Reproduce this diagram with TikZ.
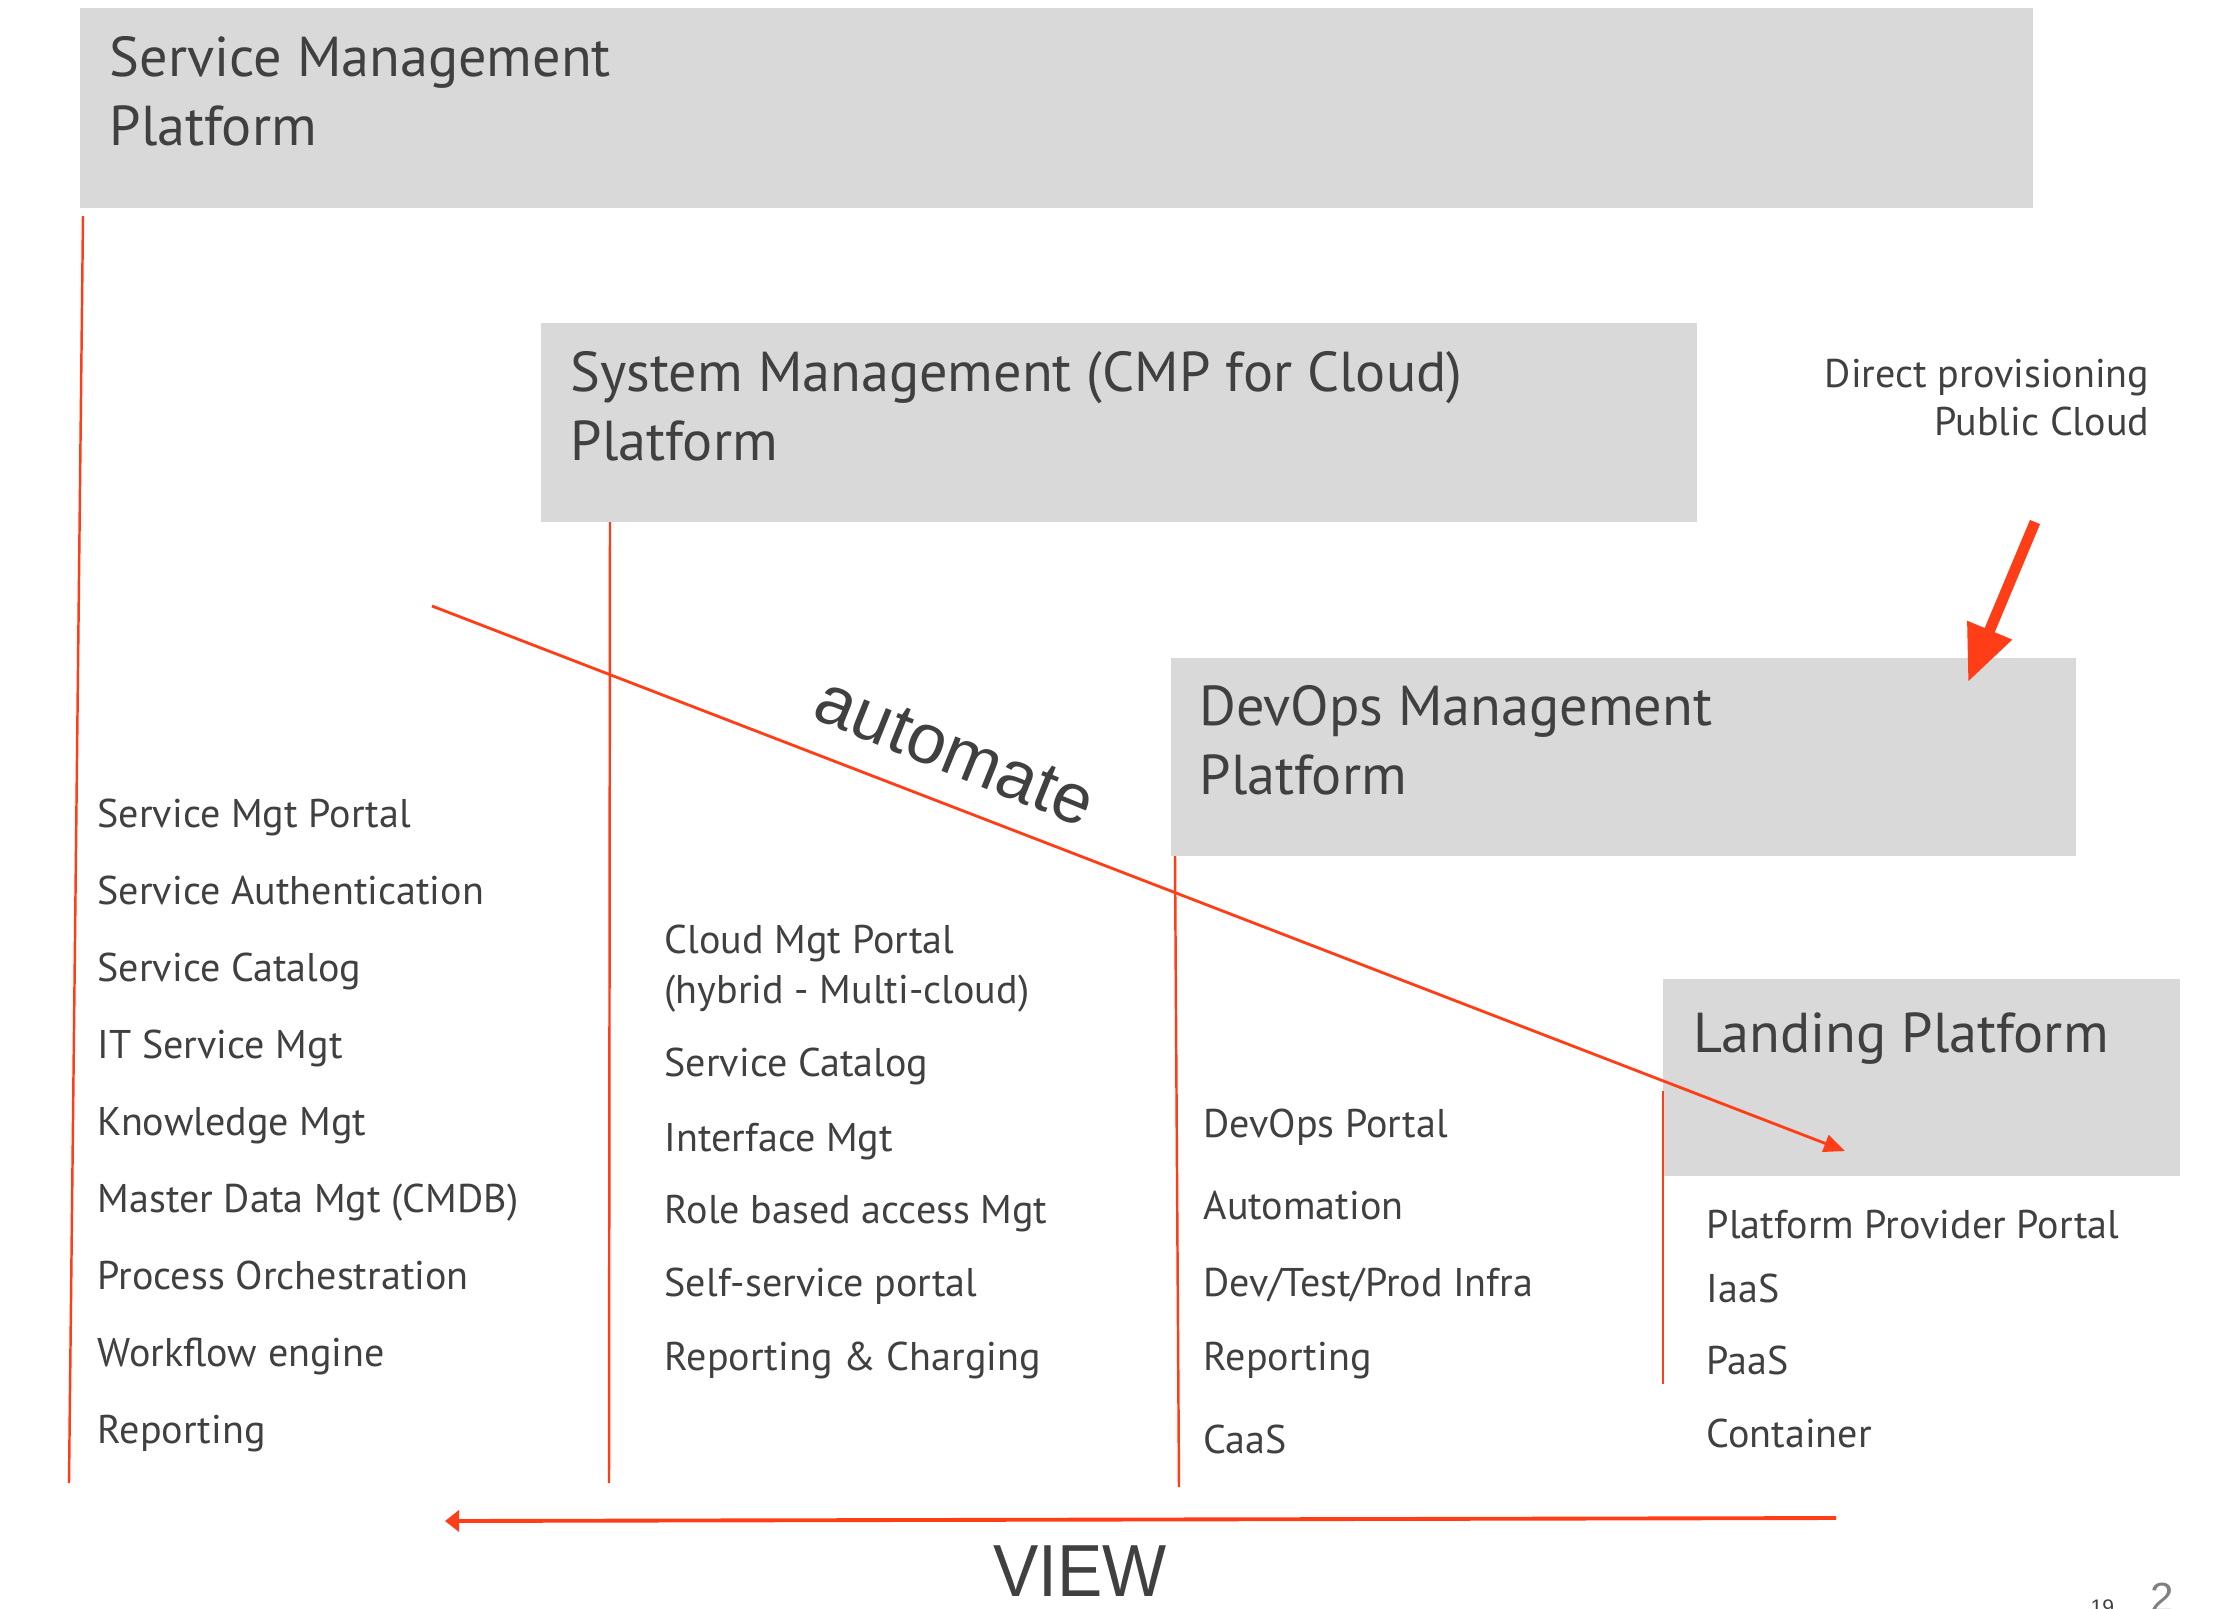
\documentclass[tikz,border=0pt]{standalone}
\usepackage{fontspec}
\setmainfont{PT Sans}
\newfontfamily\arialfont{Liberation Sans}
\usetikzlibrary{arrows.meta}
\definecolor{boxgray}{HTML}{D9D9D9}
\definecolor{linered}{HTML}{FF3D17}
\definecolor{textgray}{HTML}{404040}
\begin{document}
\begin{tikzpicture}[x=0.1mm,y=-0.1mm,
		platform/.style={fill=boxgray},
		title/.style={anchor=base west,align=left,inner sep=0pt,text=textgray,font=\fontsize{16}{19.4}\selectfont},
		item/.style={anchor=base west,inner sep=0pt,text=textgray,font=\fontsize{11.4}{13.6}\selectfont},
		redline/.style={draw=linered,line width=0.7pt}]
				\useasboundingbox (0,0) rectangle (2214,1608);
				% platform boxes
				\fill[platform] (80,8) rectangle (2033,208);
				\fill[platform] (541,323) rectangle (1697,522);
				\fill[platform] (1171,658) rectangle (2076,856);
				\fill[platform] (1663,979) rectangle (2180,1176);
				\node[title] (smp) at (109,145) {Service Management\\Platform};
				\node[title] (cmp) at (570,460) {System Management (CMP for Cloud)\\Platform};
				\node[title] (devops) at (1199,794) {DevOps Management\\Platform};
				\node[title] (landing) at (1693,1052) {Landing Platform};
				\node[item,anchor=base east,align=right] (direct) at (2150,435) {Direct provisioning\\Public Cloud};
				% columns
				\foreach \t [count=\i from 0] in {Service Mgt Portal,Service Authentication,Service Catalog,IT Service Mgt,Knowledge Mgt,Master Data Mgt (CMDB),Process Orchestration,Workflow engine,Reporting}
					\node[item] (svc\i) at (97,827+77*\i) {\t};
				\foreach \y/\t [count=\i] in {953/Cloud Mgt Portal,1003/(hybrid - Multi-cloud),1076/Service Catalog,1151/Interface Mgt,1223/Role based access Mgt,1296/Self-service portal,1370/Reporting \& Charging}
					\node[item] (cmp\i) at (664,\y) {\t};
				\foreach \y/\t [count=\i] in {1137/DevOps Portal,1219/Automation,1296/{Dev/Test/Prod Infra},1370/Reporting,1453/CaaS}
					\node[item] (dev\i) at (1203,\y) {\t};
				\foreach \y/\t [count=\i] in {1238/Platform Provider Portal,1302/IaaS,1374/PaaS,1447/Container}
					\node[item] (lnd\i) at (1706,\y) {\t};
				% red lines
				\coordinate (A1) at (83,216);
				\coordinate (B1) at (69,1483);
				\coordinate (A2) at (610,522);
				\coordinate (B2) at (609,1483);
				\coordinate (A3) at (1175,856);
				\coordinate (B3) at (1179,1487);
				\coordinate (A4) at (1663,1091);
				\coordinate (B4) at (1663,1384);
				\draw[redline] (A1) -- (B1);
				\draw[redline] (A2) -- (B2);
				\draw[redline] (A3) -- (B3);
				\draw[redline] (A4) -- (B4);
				\coordinate (P) at (432,606);
				\coordinate (Q) at (1845,1151);
				\draw[redline,line width=0.8pt,-{Triangle[length=6pt,width=5pt]}] (P) -- (Q);
				\node[rotate=-22,text=textgray,font=\arialfont\fontsize{20}{24}\selectfont] (automate) at (955,752) {automate};
				\coordinate (R) at (1836,1518);
				\coordinate (S) at (445,1521);
				\draw[redline,line width=1.1pt,-{Triangle[length=4pt,width=6pt]}] (R) -- (S);
				\node[anchor=base,inner sep=0pt,text=textgray,font=\arialfont\fontsize{21}{25}\selectfont] (view) at (1080,1596) {\scalebox{0.92}[1]{VIEW}};
				\coordinate (T) at (2035,522);
				\coordinate (U) at (1968,682);
				\draw[redline,line width=3.1pt,-{Triangle[length=16pt,width=13pt]}] (T) -- (U);
				%\node at (2100,1612) {19};
				\node[anchor=base west,inner sep=0pt,text=textgray,font=\arialfont\fontsize{6}{7}\selectfont] (slideA) at (2090,1614) {19};
				\node[anchor=base west,inner sep=0pt,text=gray,font=\arialfont\fontsize{12}{14}\selectfont] (slideB) at (2150,1612) {2};
\end{tikzpicture}
\end{document}
